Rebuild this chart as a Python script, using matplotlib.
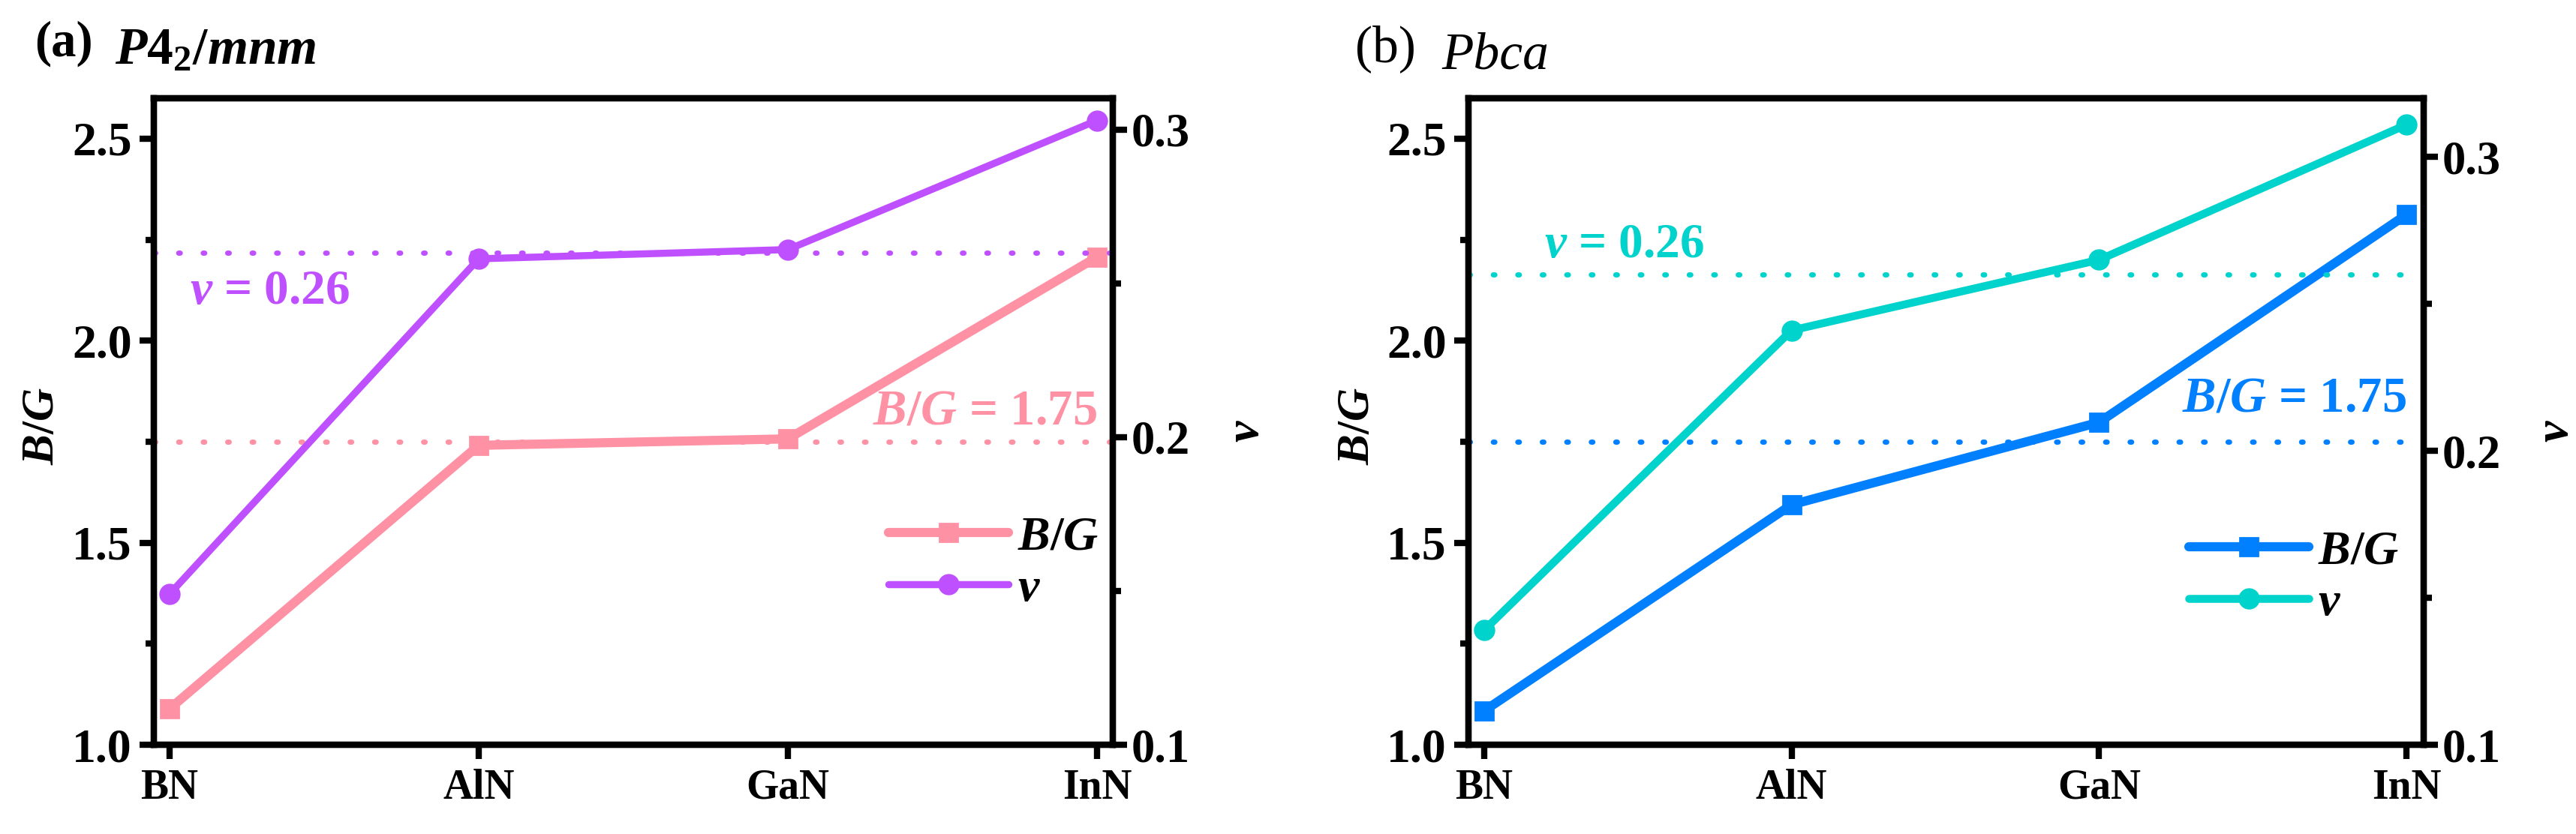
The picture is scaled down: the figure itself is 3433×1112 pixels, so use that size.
import matplotlib
matplotlib.use('Agg')
import matplotlib.pyplot as plt
from matplotlib.ticker import MultipleLocator, FixedLocator
from matplotlib.lines import Line2D

plt.rcParams['font.family'] = ['Liberation Serif', 'DejaVu Serif']
plt.rcParams['font.weight'] = 'bold'
plt.rcParams['mathtext.fontset'] = 'custom'
plt.rcParams['mathtext.rm'] = 'Liberation Serif:bold'
plt.rcParams['mathtext.it'] = 'Liberation Serif:italic:bold'
plt.rcParams['mathtext.bf'] = 'Liberation Serif:bold'

# ---- data ----
categories = ['BN', 'AlN', 'GaN', 'InN']
bg_a = [1.089, 1.741, 1.757, 2.207]
nu_a = [0.149, 0.258, 0.261, 0.303]
bg_b = [1.084, 1.594, 1.798, 2.312]
nu_b = [0.139, 0.241, 0.265, 0.311]
bg_ref = 1.75
nu_ref = 0.26
left_ticks = [1.0, 1.5, 2.0, 2.5]
right_ticks = [0.1, 0.2, 0.3]

pink = '#FF91A4'
purple = '#BF50FF'
blue = '#0080FF'
teal = '#00D2CC'

W, H = 3433, 1112
DPI = 200
fig = plt.figure(figsize=(W / DPI, H / DPI), dpi=DPI)

def px_axes(l, r, t, b):
    return [l / W, 1 - b / H, (r - l) / W, (b - t) / H]

SPW = 3.0
DOT = (0, (0.3, 4.4))

def make_panel(rect, bg, nu, c_bg, c_nu, lw_bg, lw_nu, xlim, rlim,
               nu_txt_pos, bg_txt_pos, leg_anchor, ylab_x, rlab_x):
    ax = fig.add_axes(rect)
    x = list(range(len(categories)))
    ax.plot(x, bg, color=c_bg, lw=lw_bg, marker='s', ms=8.5, mec=c_bg,
            solid_capstyle='round', zorder=3)
    ax.axhline(bg_ref, color=c_bg, lw=2.5, linestyle=DOT,
               dash_capstyle='round', zorder=2)
    ax.set_xlim(*xlim)
    ax.set_ylim(1.0, 2.6)
    ax.set_xticks(x)
    ax.set_xticklabels(categories)
    ax.yaxis.set_major_locator(FixedLocator(left_ticks))
    ax.yaxis.set_minor_locator(MultipleLocator(0.25))
    ax.set_yticklabels([f'{v:.1f}' for v in left_ticks])
    ax.tick_params(axis='y', which='major', direction='out', length=7, width=SPW,
                   labelsize=23, pad=3.6)
    ax.tick_params(axis='y', which='minor', direction='out', length=4, width=SPW)
    ax.tick_params(axis='x', which='major', direction='out', length=7, width=SPW,
                   labelsize=20, pad=4.5)
    ax.set_ylabel('$B/G$', fontsize=22)
    ax.yaxis.set_label_coords(ylab_x, 0.493)
    for s in ax.spines.values():
        s.set_linewidth(SPW)

    ax2 = ax.twinx()
    ax2.plot(x, nu, color=c_nu, lw=lw_nu, marker='o', ms=9.2, mec=c_nu,
             solid_capstyle='round', zorder=3)
    ax2.axhline(nu_ref, color=c_nu, lw=2.5, linestyle=DOT,
                dash_capstyle='round', zorder=2)
    ax2.set_ylim(*rlim)
    ax2.yaxis.set_major_locator(FixedLocator(right_ticks))
    ax2.yaxis.set_minor_locator(MultipleLocator(0.05))
    ax2.set_yticklabels([f'{v:.1f}' for v in right_ticks])
    ax2.tick_params(axis='y', which='major', direction='out', length=7, width=SPW,
                    labelsize=22.5, pad=1.8)
    ax2.tick_params(axis='y', which='minor', direction='out', length=4, width=SPW)
    ax2.set_ylabel(r'$\nu$', fontsize=23)
    ax2.yaxis.set_label_coords(rlab_x, 0.485)
    for s in ax2.spines.values():
        s.set_linewidth(SPW)

    ax.text(nu_txt_pos[0], nu_txt_pos[1], r'$\nu$ = %.2f' % nu_ref, color=c_nu,
            transform=ax.transAxes, fontsize=23.5, ha='left', va='baseline')
    ax.text(bg_txt_pos[0], bg_txt_pos[1], r'$B/G$ = %.2f' % bg_ref, color=c_bg,
            transform=ax.transAxes, fontsize=24, ha='right', va='baseline')

    handles = [Line2D([], [], color=c_bg, lw=lw_bg, marker='s', ms=8.5,
                      solid_capstyle='round'),
               Line2D([], [], color=c_nu, lw=lw_nu, marker='o', ms=9.2,
                      solid_capstyle='round')]
    ax.legend(handles, ['$B/G$', r'$\nu$'], loc='center left',
              bbox_to_anchor=leg_anchor, frameon=False, fontsize=23,
              handlelength=2.5, handletextpad=0.2, labelspacing=0.15,
              borderaxespad=0, borderpad=0)
    return ax, ax2

make_panel(px_axes(205, 1483, 131, 993), bg_a, nu_a, pink, purple, 4.4, 3.4,
           (-0.051, 3.051), (0.1, 0.3102),
           (0.0376, 0.682), (0.984, 0.4965), (0.766, 0.280),
           -0.095, 1.117)
make_panel(px_axes(1957, 3230, 131, 993), bg_b, nu_b, blue, teal, 4.4, 3.8,
           (-0.051, 3.056), (0.1, 0.32),
           (0.0793, 0.754), (0.982, 0.516), (0.754, 0.258),
           -0.094, 1.116)

# panel titles
fig.text(46 / W, 1 - 75 / H, '(a)', fontsize=24, fontweight='bold',
         ha='left', va='baseline')
fig.text(153 / W, 1 - 85 / H, r'$\mathit{P4_2/mnm}$', fontsize=25,
         ha='left', va='baseline')
fig.text(1806 / W, 1 - 82 / H, '(b)', fontsize=25, fontweight='normal',
         ha='left', va='baseline')
fig.text(1921 / W, 1 - 92 / H, 'Pbca', fontsize=25, fontweight='normal',
         fontstyle='italic', ha='left', va='baseline')

fig.savefig('out.png', dpi=DPI)
